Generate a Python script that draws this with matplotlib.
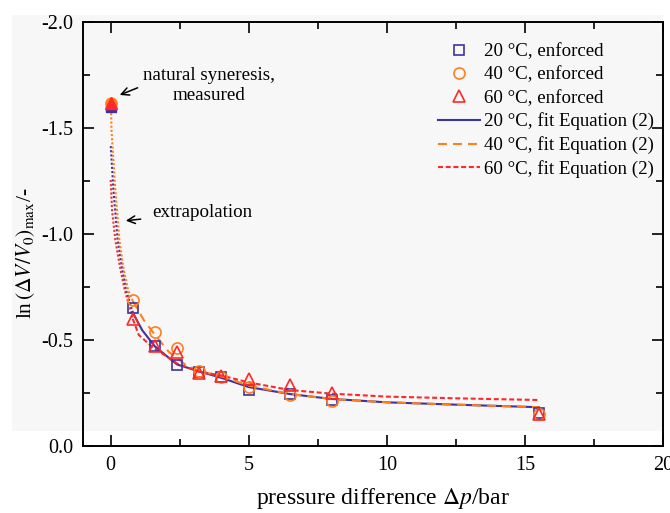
import matplotlib
matplotlib.use("Agg")
from matplotlib import pyplot as plt
from matplotlib.patches import Rectangle

plt.rcParams["font.family"] = ["Liberation Serif", "DejaVu Serif"]
plt.rcParams["mathtext.fontset"] = "stix"

BLUE = "#3d33a0"
ORANGE = "#ff7f1e"
RED = "#ff2828"

# measured points: p = 0 is natural syneresis, the rest enforced
p_natural = [0.0]
natural_20 = [-1.60]
natural_40 = [-1.62]
natural_60 = [-1.62]

p_enforced = [0.8, 1.6, 2.4, 3.2, 4.0, 5.0, 6.5, 8.0, 15.5]
enforced_20 = [-0.65, -0.47, -0.38, -0.35, -0.325, -0.265, -0.245, -0.215, -0.155]
enforced_40 = [-0.69, -0.54, -0.46, -0.355, -0.325, -0.28, -0.24, -0.21, -0.15]
enforced_60 = [-0.60, -0.47, -0.445, -0.345, -0.33, -0.315, -0.29, -0.25, -0.15]

# fit curves, Equation (2)
extrap_20_p = [0.005, 0.1, 0.255, 0.4, 0.556, 0.8]
extrap_20_y = [-1.415, -1.21, -0.972, -0.85, -0.736, -0.63]
fit_20_p = [0.8, 1.14, 1.6, 2.4, 3.2, 4.0, 5.0, 6.5, 8.0, 10.0, 12.5, 15.5]
fit_20_y = [-0.63, -0.547, -0.47, -0.385, -0.352, -0.322, -0.278, -0.245, -0.222, -0.206, -0.195, -0.183]

extrap_40_p = [0.02, 0.03, 0.17, 0.316, 0.45, 0.63, 0.8]
extrap_40_y = [-1.57, -1.49, -1.21, -0.972, -0.85, -0.736, -0.685]
fit_40_p = [0.8, 1.2, 1.6, 2.1, 2.72, 3.2, 4.05, 5.0, 6.5, 8.0, 10.0, 12.5, 15.5]
fit_40_y = [-0.685, -0.594, -0.525, -0.445, -0.382, -0.355, -0.327, -0.285, -0.245, -0.222, -0.206, -0.195, -0.183]

extrap_60_p = [0.002, 0.05, 0.17, 0.33, 0.51, 0.8]
extrap_60_y = [-1.255, -1.113, -0.972, -0.85, -0.736, -0.60]
fit_60_p = [0.8, 1.02, 1.5, 2.4, 3.2, 4.0, 5.0, 6.5, 8.0, 10.0, 12.5, 15.5]
fit_60_y = [-0.60, -0.524, -0.468, -0.39, -0.35, -0.333, -0.30, -0.264, -0.247, -0.233, -0.225, -0.217]

fig = plt.figure(figsize=(6.7, 5.13), dpi=100, facecolor="white")
fig.patches.append(Rectangle((0.018, 0.16), 0.972, 0.811, transform=fig.transFigure,
                             facecolor="#f7f7f7", edgecolor="none", zorder=-10))
ax = fig.add_axes([0.1239, 0.1306, 0.8657, 0.8264])
ax.set_facecolor("none")

dots = (0, (1, 1))
ax.plot(extrap_20_p, extrap_20_y, color=BLUE, lw=1.5, ls=dots)
ax.plot(extrap_40_p, extrap_40_y, color=ORANGE, lw=1.5, ls=dots)
ax.plot(extrap_60_p, extrap_60_y, color=RED, lw=1.5, ls=dots)

ax.plot(p_enforced, enforced_20, ls="none", marker="s", ms=6.5, mfc="none", mec=BLUE, mew=1.2,
        label="20 °C, enforced", zorder=4)
ax.plot(p_enforced, enforced_40, ls="none", marker="o", ms=8, mfc="none", mec=ORANGE, mew=1.2,
        label="40 °C, enforced", zorder=4)
ax.plot(p_enforced, enforced_60, ls="none", marker="^", ms=8.5, mfc="none", mec=RED, mew=1.2,
        label="60 °C, enforced", zorder=4)

ax.plot(fit_20_p, fit_20_y, color=BLUE, lw=1.5, label="20 °C, fit Equation (2)")
ax.plot(fit_40_p, fit_40_y, color=ORANGE, lw=1.5, ls=(0, (4.3, 2.9)), label="40 °C, fit Equation (2)")
ax.plot(fit_60_p, fit_60_y, color=RED, lw=1.5, ls=(0, (2.4, 1.3)), label="60 °C, fit Equation (2)")

ax.plot(p_natural, natural_20, ls="none", marker="s", ms=6.5, color=BLUE, zorder=5)
ax.plot(p_natural, natural_40, ls="none", marker="o", ms=8, color=ORANGE, zorder=5)
ax.plot(p_natural, natural_60, ls="none", marker="^", ms=8, color=RED, zorder=5)

ax.annotate("natural syneresis,\nmeasured", xy=(0.33, -1.656), xytext=(3.56, -1.70),
            ha="center", va="center", fontsize=13.7, linespacing=1.2,
            arrowprops=dict(arrowstyle="->", color="black", lw=1.1, shrinkB=0,
                            relpos=(0.0, 0.5)))
ax.annotate("extrapolation", xy=(0.55, -1.063), xytext=(1.49, -1.10),
            ha="left", va="center", fontsize=13.7,
            arrowprops=dict(arrowstyle="->", color="black", lw=1.1, shrinkB=0, shrinkA=6))

ax.set_xlim(-1, 20)
ax.set_ylim(0, -2.0)
ax.set_xticks([0, 5, 10, 15, 20])
ax.set_xticks([2.5, 7.5, 12.5, 17.5], minor=True)
ax.set_yticks([0.0, -0.5, -1.0, -1.5, -2.0])
ax.set_yticks([-0.25, -0.75, -1.25, -1.75], minor=True)
ax.yaxis.set_major_formatter(matplotlib.ticker.FormatStrFormatter("%.1f"))
ax.tick_params(which="both", direction="in", top=True, right=True, width=1.2, labelsize=14.5)
ax.tick_params(which="major", length=8)
ax.tick_params(which="minor", length=5)
ax.tick_params(axis="x", pad=7)
ax.tick_params(axis="y", pad=7)
for s in ax.spines.values():
    s.set_linewidth(1.4)

ax.set_xlabel(r"pressure difference $\Delta p$/bar", fontsize=17)
ax.set_ylabel(r"ln$\,\left(\Delta V/V_0\right)_\mathrm{max}$/-", fontsize=15.5)
ax.xaxis.set_label_coords(0.517, -0.095)
ax.yaxis.set_label_coords(-0.08, 0.455)

ax.legend(loc="upper left", bbox_to_anchor=(0.612, 0.950), frameon=False, fontsize=13.6,
          borderpad=0, borderaxespad=0, handlelength=2.2, handletextpad=0.25,
          labelspacing=0.31)

fig.savefig("out.png", dpi=100)
